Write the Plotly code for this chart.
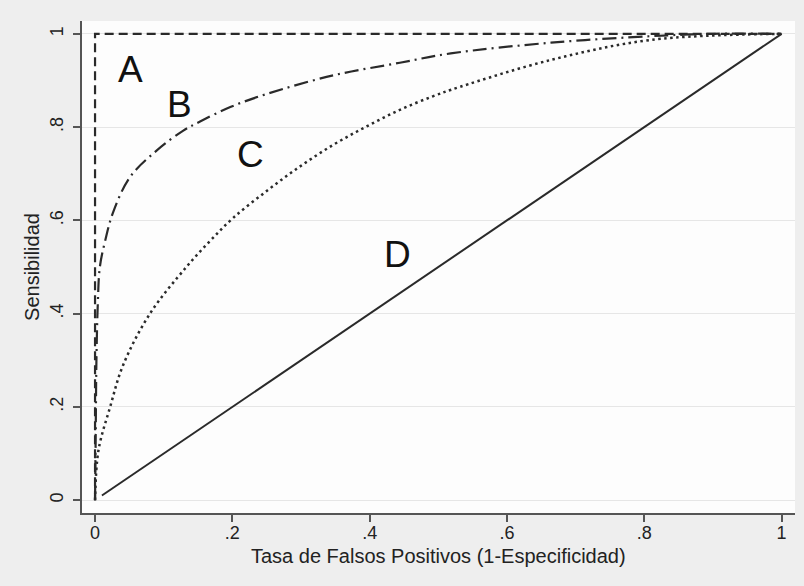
import plotly.graph_objects as go

# Curve A (perfect test)
a_x = [0, 0, 1]
a_y = [0, 1, 1]

# Curve B (dash-dot)
b_x = [0, 0.001, 0.002, 0.004, 0.007, 0.015, 0.026, 0.051, 0.09, 0.128, 0.153, 0.197, 0.25, 0.347, 0.444, 0.518, 0.664, 0.81, 0.9, 1.0]
b_y = [0, 0.15, 0.3, 0.42, 0.5, 0.558, 0.616, 0.693, 0.75, 0.792, 0.812, 0.843, 0.871, 0.911, 0.938, 0.958, 0.981, 0.995, 1.0, 1.0]

# Curve C (dotted)
c_x = [0, 0.005, 0.022, 0.041, 0.08, 0.133, 0.167, 0.201, 0.25, 0.298, 0.347, 0.395, 0.444, 0.492, 0.531, 0.664, 0.81, 1.0]
c_y = [0, 0.107, 0.20, 0.29, 0.40, 0.50, 0.555, 0.605, 0.663, 0.715, 0.762, 0.801, 0.837, 0.866, 0.886, 0.944, 0.987, 1.0]

# Curve D (diagonal)
d_x = [0.01, 1.0]
d_y = [0.01, 1.0]

labels = ["A", "B", "C", "D"]
label_x = [0.051, 0.123, 0.226, 0.441]
label_y = [0.923, 0.848, 0.742, 0.526]

tick_vals = [0, 0.2, 0.4, 0.6, 0.8, 1]
tick_text = ["0", ".2", ".4", ".6", ".8", "1"]

x_title = "Tasa de Falsos Positivos (1-Especificidad)"
y_title = "Sensibilidad"

FONT = "Liberation Sans, Arial, sans-serif"
LC = "#2a2a2a"

fig = go.Figure()
fig.add_trace(go.Scatter(x=a_x, y=a_y, mode="lines",
                         line=dict(color=LC, width=2.2, dash="9px,5px")))
fig.add_trace(go.Scatter(x=b_x, y=b_y, mode="lines", line_shape="spline",
                         line=dict(color=LC, width=2.2, dash="14px,5px,2px,5px")))
fig.add_trace(go.Scatter(x=c_x, y=c_y, mode="lines", line_shape="spline",
                         line=dict(color=LC, width=2.5, dash="2.5px,3.5px")))
fig.add_trace(go.Scatter(x=d_x, y=d_y, mode="lines",
                         line=dict(color=LC, width=2)))

for t, x, y in zip(labels, label_x, label_y):
    fig.add_annotation(x=x, y=y, text=t, showarrow=False,
                       font=dict(family=FONT, size=37, color="#111111"))

# x-axis title as paper annotation (centred under the plot)
fig.add_annotation(x=0.5, y=-0.087, xref="paper", yref="paper",
                   text=x_title, showarrow=False, xanchor="center", yanchor="middle",
                   font=dict(family=FONT, size=20, color="#222222"))

fig.update_layout(
    width=804, height=586,
    margin=dict(l=82, r=9, t=21, b=73),
    paper_bgcolor="#eeeeee",
    plot_bgcolor="#fdfdfd",
    showlegend=False,
    font=dict(family=FONT, size=19, color="#222222"),
)
fig.update_xaxes(
    range=[-0.019, 1.0195], tickvals=tick_vals, ticktext=tick_text,
    showgrid=False, zeroline=False,
    showline=True, linecolor="#555555", linewidth=1.5,
    ticks="outside", ticklen=7, tickcolor="#555555", tickwidth=1.5,
    tickfont=dict(size=18), ticklabelstandoff=-4,
)
fig.update_yaxes(
    range=[-0.0275, 1.0275], tickvals=tick_vals, ticktext=tick_text,
    tickangle=-90,
    showgrid=True, gridcolor="#e6e6e6", gridwidth=1, zeroline=False,
    showline=True, linecolor="#555555", linewidth=1.5,
    ticks="outside", ticklen=7, tickcolor="#555555", tickwidth=1.5,
    tickfont=dict(size=18), ticklabelstandoff=3,
    title=dict(text=y_title, font=dict(size=20), standoff=2),
)

fig.write_html("out.html")
